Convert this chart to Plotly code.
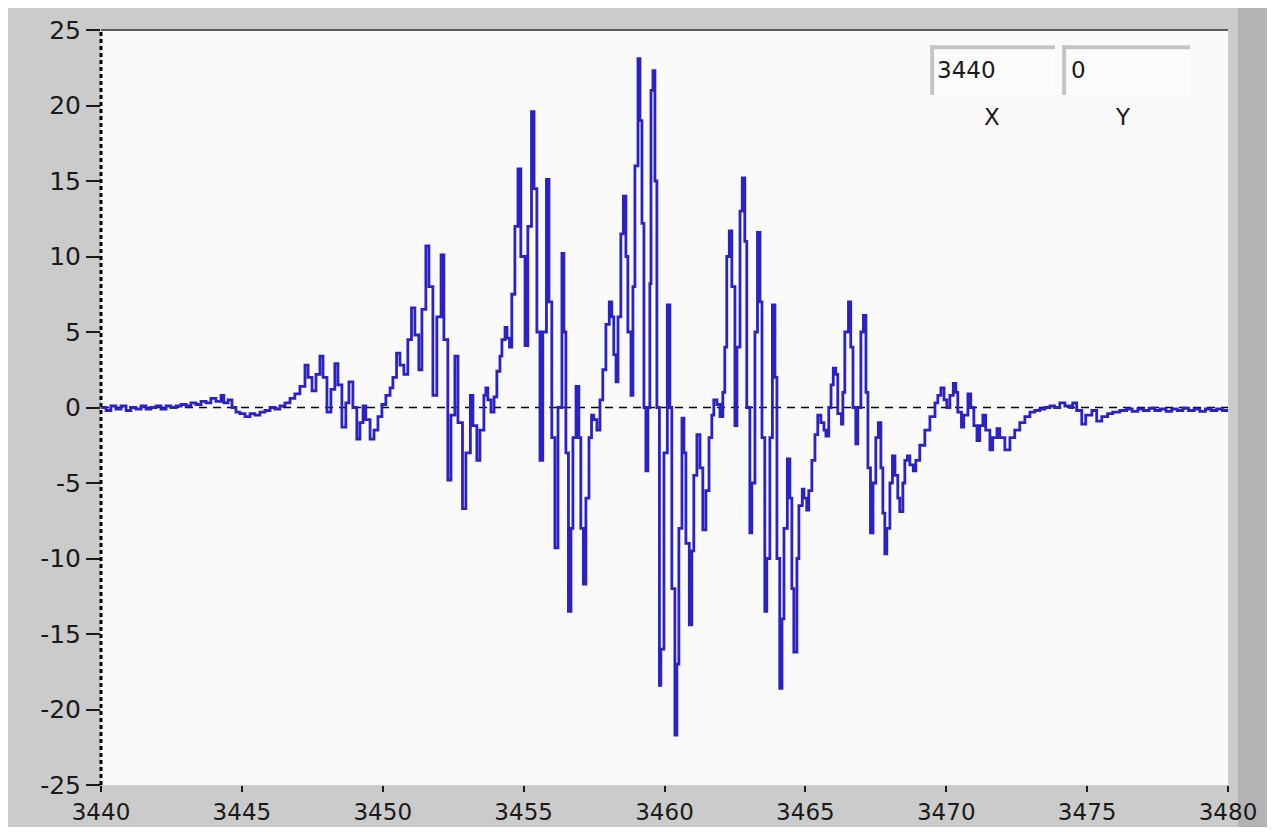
import plotly.graph_objects as go

# ---- data ----
x_vals = [
    3440.00, 3440.18, 3440.35, 3440.53, 3440.71, 3440.89, 3441.06, 3441.24, 3441.42, 3441.60,
    3441.77, 3441.95, 3442.13, 3442.31, 3442.48, 3442.66, 3442.84, 3443.02, 3443.19, 3443.37,
    3443.55, 3443.73, 3443.90, 3444.08, 3444.26, 3444.36, 3444.51, 3444.65, 3444.79, 3444.93,
    3445.11, 3445.29, 3445.46, 3445.64, 3445.82, 3446.00, 3446.17, 3446.35, 3446.53, 3446.71,
    3446.88, 3447.06, 3447.24, 3447.35, 3447.49, 3447.63, 3447.77, 3447.88, 3448.02, 3448.16,
    3448.30, 3448.41, 3448.55, 3448.69, 3448.80, 3448.94, 3449.08, 3449.19, 3449.30, 3449.40,
    3449.55, 3449.69, 3449.83, 3449.97, 3450.11, 3450.26, 3450.36, 3450.49, 3450.61, 3450.75,
    3450.89, 3451.02, 3451.14, 3451.28, 3451.39, 3451.53, 3451.64, 3451.78, 3451.92, 3452.07,
    3452.17, 3452.31, 3452.42, 3452.56, 3452.67, 3452.83, 3452.95, 3453.11, 3453.20, 3453.34,
    3453.45, 3453.59, 3453.66, 3453.73, 3453.84, 3453.95, 3454.05, 3454.16, 3454.23, 3454.34,
    3454.41, 3454.50, 3454.58, 3454.69, 3454.80, 3454.90, 3455.05, 3455.15, 3455.28, 3455.37,
    3455.47, 3455.58, 3455.68, 3455.81, 3455.90, 3456.00, 3456.11, 3456.22, 3456.36, 3456.43,
    3456.50, 3456.59, 3456.68, 3456.75, 3456.86, 3456.96, 3457.03, 3457.12, 3457.21, 3457.32,
    3457.41, 3457.49, 3457.60, 3457.71, 3457.81, 3457.92, 3458.04, 3458.13, 3458.20, 3458.28,
    3458.35, 3458.45, 3458.54, 3458.63, 3458.70, 3458.81, 3458.88, 3458.95, 3459.06, 3459.13,
    3459.20, 3459.27, 3459.34, 3459.41, 3459.48, 3459.52, 3459.59, 3459.66, 3459.73, 3459.82,
    3459.87, 3459.98, 3460.10, 3460.19, 3460.26, 3460.37, 3460.44, 3460.51, 3460.62, 3460.69,
    3460.76, 3460.88, 3460.97, 3461.04, 3461.15, 3461.26, 3461.36, 3461.47, 3461.58, 3461.68,
    3461.75, 3461.86, 3461.97, 3462.07, 3462.14, 3462.21, 3462.30, 3462.39, 3462.50, 3462.57,
    3462.68, 3462.76, 3462.85, 3462.92, 3463.03, 3463.10, 3463.21, 3463.30, 3463.39, 3463.46,
    3463.56, 3463.63, 3463.74, 3463.83, 3463.92, 3463.99, 3464.09, 3464.17, 3464.24, 3464.36,
    3464.45, 3464.52, 3464.59, 3464.70, 3464.77, 3464.89, 3464.95, 3465.05, 3465.12, 3465.23,
    3465.34, 3465.44, 3465.55, 3465.66, 3465.73, 3465.83, 3465.91, 3465.99, 3466.08, 3466.15,
    3466.28, 3466.33, 3466.40, 3466.53, 3466.61, 3466.69, 3466.79, 3466.86, 3466.97, 3467.06,
    3467.15, 3467.22, 3467.31, 3467.40, 3467.50, 3467.59, 3467.68, 3467.75, 3467.82, 3467.89,
    3468.00, 3468.09, 3468.18, 3468.28, 3468.35, 3468.46, 3468.53, 3468.62, 3468.71, 3468.83,
    3468.92, 3469.06, 3469.24, 3469.42, 3469.60, 3469.70, 3469.81, 3469.92, 3470.02, 3470.13,
    3470.25, 3470.34, 3470.41, 3470.54, 3470.62, 3470.77, 3470.87, 3470.98, 3471.09, 3471.19,
    3471.30, 3471.40, 3471.55, 3471.65, 3471.80, 3471.90, 3472.08, 3472.26, 3472.43, 3472.61,
    3472.79, 3472.97, 3473.14, 3473.32, 3473.50, 3473.68, 3473.85, 3474.03, 3474.21, 3474.39,
    3474.49, 3474.63, 3474.81, 3474.95, 3475.17, 3475.34, 3475.52, 3475.73, 3475.91, 3476.16,
    3476.40, 3476.60, 3476.80, 3477.00, 3477.20, 3477.40, 3477.60, 3477.80, 3478.00, 3478.20,
    3478.40, 3478.60, 3478.80, 3479.00, 3479.20, 3479.40, 3479.60, 3479.80, 3480.00,
]

y_vals = [
    0.0, -0.2, 0.1, -0.1, 0.1, -0.2, 0.0, -0.1, 0.1, -0.1,
    0.0, 0.1, -0.1, 0.1, 0.0, 0.1, 0.2, 0.1, 0.3, 0.2,
    0.4, 0.3, 0.6, 0.4, 0.8, 0.3, 0.5, 0.0, -0.3, -0.4,
    -0.6, -0.4, -0.5, -0.3, -0.2, 0.0, -0.1, 0.1, 0.3, 0.6,
    0.9, 1.4, 2.8, 2.0, 1.1, 2.2, 3.4, 2.0, -0.3, 1.2,
    2.9, 1.5, -1.3, 0.3, 1.7, 0.0, -2.1, -1.0, 0.1, -0.8,
    -2.1, -1.5, -0.6, 0.2, 0.8, 1.3, 2.0, 3.6, 2.8, 2.2,
    4.5, 6.6, 4.8, 2.5, 6.5, 10.7, 8.0, 0.8, 6.0, 10.1,
    4.5, -4.8, -0.5, 3.4, -1.0, -6.7, -3.0, 0.8, -1.2, -3.5,
    -1.5, 0.8, 1.3, 0.5, -0.3, 0.7, 2.4, 3.4, 4.5, 5.3,
    4.6, 4.0, 7.5, 12.0, 15.8, 10.0, 4.1, 12.0, 19.6, 14.5,
    5.0, -3.5, 5.0, 15.1, 7.0, -2.0, -9.3, 0.0, 10.2, 5.0,
    -3.0, -13.5, -8.0, -2.0, 1.4, -2.0, -8.0, -11.7, -6.0, -2.0,
    -0.5, -0.8, -1.5, 0.5, 2.5, 5.5, 7.0, 6.0, 3.5, 1.7,
    6.0, 11.5, 14.0, 10.0, 5.0, 0.8, 8.0, 16.0, 23.1, 19.0,
    12.2, 0.0, -4.2, 0.0, 8.2, 21.0, 22.3, 15.0, 0.0, -18.4,
    -16.0, -3.0, 6.8, 0.0, -12.0, -21.7, -17.0, -8.0, -0.7, -3.0,
    -9.0, -14.4, -9.5, -4.5, -1.8, -4.0, -8.1, -5.5, -2.0, -0.5,
    0.5, 0.2, -0.6, 1.0, 4.0, 10.0, 11.7, 8.0, -1.2, 4.0,
    13.0, 15.2, 11.0, 0.0, -8.3, -5.0, 5.0, 11.6, 7.0, -2.0,
    -13.5, -10.0, -2.0, 6.8, 2.0, -10.0, -18.6, -14.0, -8.0, -3.4,
    -6.0, -12.0, -16.2, -10.0, -6.5, -5.4, -6.0, -6.8, -5.5, -3.5,
    -1.8, -0.5, -1.0, -1.5, -1.9, 0.0, 1.5, 2.6, 2.2, -0.4,
    -1.1, 1.0, 5.0, 7.0, 4.0, 0.0, -2.4, 0.0, 5.0, 6.1,
    1.0, -4.0, -8.3, -5.0, -2.0, -1.0, -4.0, -7.0, -9.7, -8.0,
    -5.0, -3.2, -4.5, -6.0, -6.9, -5.0, -3.5, -3.2, -3.8, -4.2,
    -3.5, -2.5, -1.5, -0.6, 0.3, 0.8, 1.3, 0.5, 0.0, 0.8,
    1.6, 1.0, -0.3, -1.3, -0.5, 0.9, 0.0, -1.2, -2.2, -1.2,
    -0.5, -1.5, -2.8, -2.0, -1.4, -2.0, -2.8, -2.0, -1.5, -1.0,
    -0.6, -0.3, -0.2, -0.1, 0.0, 0.1, 0.0, 0.3, 0.1, 0.0,
    0.3, -0.2, -1.1, -0.5, -0.2, -0.9, -0.6, -0.4, -0.3, -0.2,
    -0.1, -0.25, -0.1, -0.2, -0.05, -0.2, -0.1, -0.25, -0.1, -0.2,
    -0.05, -0.2, -0.1, -0.25, -0.1, -0.2, -0.1, -0.2, -0.15,
]

x_ticks = [3440, 3445, 3450, 3455, 3460, 3465, 3470, 3475, 3480]
y_ticks = [25, 20, 15, 10, 5, 0, -5, -10, -15, -20, -25]
x_range = [3440, 3480]
y_range = [-25, 25]
cursor_x_text = "3440"
cursor_y_text = "0"

FONT = "DejaVu Sans, Liberation Sans, sans-serif"
TXT = "#1a1a1a"

fig = go.Figure()

# zero reference line (dashed)
fig.add_trace(go.Scatter(
    x=x_range, y=[0, 0], mode="lines",
    line=dict(color="black", width=1.6, dash="8px,6px"),
    hoverinfo="skip", showlegend=False,
))

# signal
fig.add_trace(go.Scatter(
    x=x_vals, y=y_vals, mode="lines",
    line=dict(color="#2a22c4", width=2.8, shape="hv"),
    showlegend=False,
))

fig.update_layout(
    width=1259, height=819,
    margin=dict(l=93, r=39, t=22, b=42, autoexpand=False),
    paper_bgcolor="#cbcbcb",
    plot_bgcolor="#fafafa",
    font=dict(family=FONT, size=25, color=TXT),
    showlegend=False,
)

fig.update_xaxes(
    range=x_range, tickvals=x_ticks, ticktext=[str(v) for v in x_ticks],
    showgrid=False, zeroline=False, showline=False, automargin=False,
    ticks="outside", ticklen=6, tickwidth=2, tickcolor=TXT,
    tickfont=dict(family=FONT, size=23, color=TXT),
)
fig.update_yaxes(
    range=y_range, tickvals=y_ticks, ticktext=[str(v) for v in y_ticks],
    showgrid=False, zeroline=False, showline=False, automargin=False,
    ticks="outside", ticklen=14, tickwidth=2, tickcolor=TXT,
    tickfont=dict(family=FONT, size=25, color=TXT),
)

shapes = [
    # dotted left axis line (paper ref so it is not clipped)
    dict(type="line", xref="paper", yref="paper", x0=0, x1=0, y0=0, y1=1,
         line=dict(color="black", width=3, dash="4px,3px")),
    # top border of plot
    dict(type="line", xref="paper", yref="paper", x0=0, x1=1, y0=1, y1=1,
         line=dict(color="#5a5a5a", width=2)),
    # dark strip at right side
    dict(type="rect", xref="paper", yref="paper", x0=1.009, x1=1.045, y0=-0.07, y1=1.03,
         fillcolor="#b3b3b3", line=dict(width=0), layer="below"),
    # cursor readout boxes
    dict(type="rect", xref="paper", yref="paper", x0=0.7356, x1=0.8465, y0=0.914, y1=0.980,
         fillcolor="#fcfcfc", line=dict(width=0)),
    dict(type="rect", xref="paper", yref="paper", x0=0.8527, x1=0.9663, y0=0.914, y1=0.980,
         fillcolor="#fcfcfc", line=dict(width=0)),
    # bevels (top and left edges)
    dict(type="line", xref="paper", yref="paper", x0=0.7356, x1=0.8465, y0=0.977, y1=0.977,
         line=dict(color="#c4c4c4", width=4)),
    dict(type="line", xref="paper", yref="paper", x0=0.7375, x1=0.7375, y0=0.914, y1=0.980,
         line=dict(color="#c4c4c4", width=4)),
    dict(type="line", xref="paper", yref="paper", x0=0.8527, x1=0.9663, y0=0.977, y1=0.977,
         line=dict(color="#c4c4c4", width=4)),
    dict(type="line", xref="paper", yref="paper", x0=0.8546, x1=0.8546, y0=0.914, y1=0.980,
         line=dict(color="#c4c4c4", width=4)),
]
fig.update_layout(shapes=shapes)

annotations = [
    dict(xref="paper", yref="paper", x=0.740, y=0.947, xanchor="left", yanchor="middle",
         text=cursor_x_text, showarrow=False, font=dict(family=FONT, size=23, color=TXT)),
    dict(xref="paper", yref="paper", x=0.859, y=0.947, xanchor="left", yanchor="middle",
         text=cursor_y_text, showarrow=False, font=dict(family=FONT, size=23, color=TXT)),
    dict(xref="paper", yref="paper", x=0.791, y=0.885, xanchor="center", yanchor="middle",
         text="X", showarrow=False, font=dict(family=FONT, size=23, color=TXT)),
    dict(xref="paper", yref="paper", x=0.907, y=0.885, xanchor="center", yanchor="middle",
         text="Y", showarrow=False, font=dict(family=FONT, size=23, color=TXT)),
]
fig.update_layout(annotations=annotations)

fig.write_html("out.html")
